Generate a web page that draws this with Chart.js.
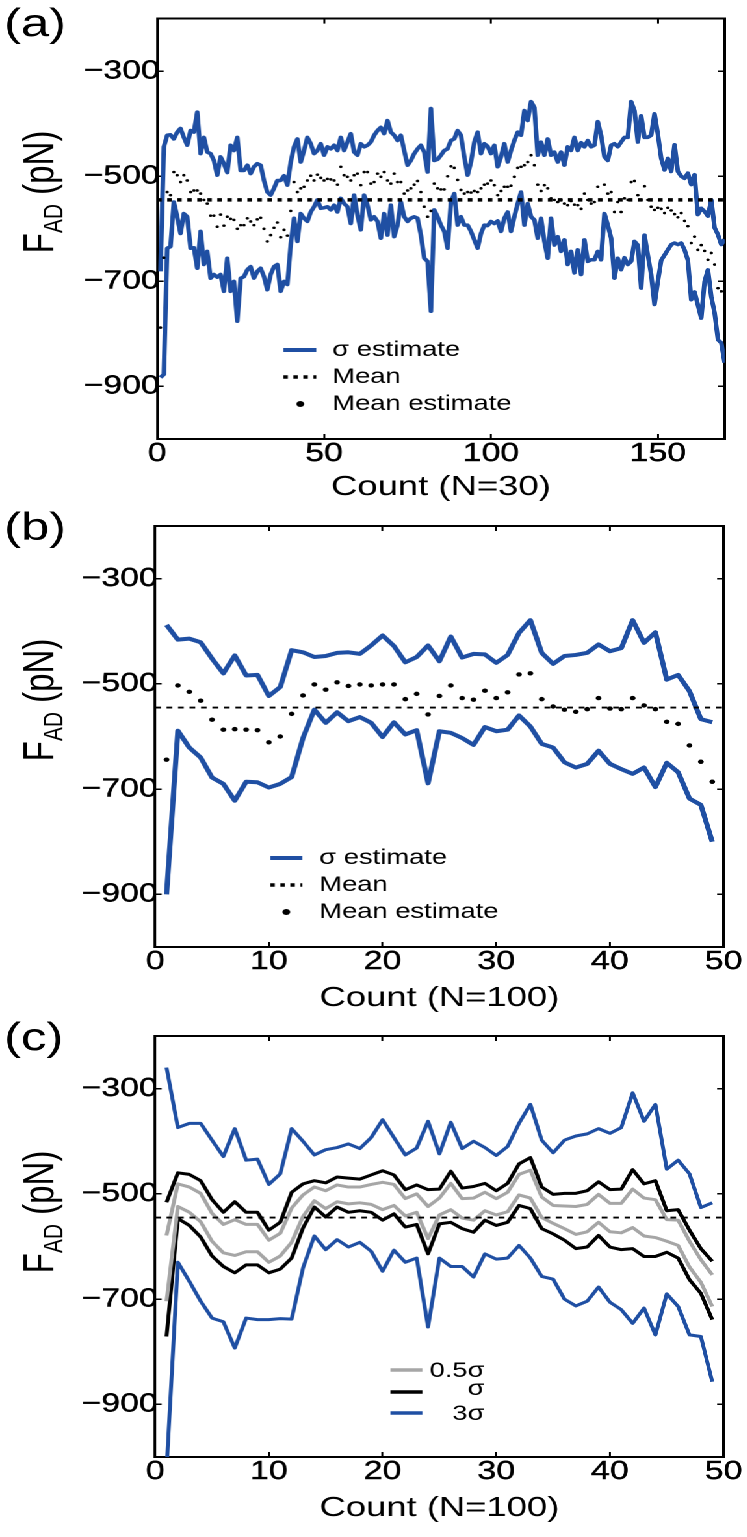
<!DOCTYPE html>
<html><head><meta charset="utf-8">
<script src="https://cdn.jsdelivr.net/npm/chart.js@4.4.1/dist/chart.umd.min.js"></script>
<style>
html,body{margin:0;padding:0;background:#fff;width:747px;height:1537px;overflow:hidden}
#wrap{position:absolute;left:0;top:0;width:574.615px;height:1537px;transform:scaleX(1.3);transform-origin:0 0}
.p{position:absolute;left:0;width:100%}
</style></head><body>
<div id="wrap">
 <div class="p" style="top:0;height:505px"><canvas id="ca"></canvas></div>
 <div class="p" style="top:505px;height:510px"><canvas id="cb"></canvas></div>
 <div class="p" style="top:1015px;height:522px"><canvas id="cc"></canvas></div>
</div>
<script>
// ---------- data ----------
const Y_TICKS = [-900, -700, -500, -300];
const A_X_TICKS = [0, 50, 100, 150];
const BC_X_TICKS = [0, 10, 20, 30, 40, 50];
const MEAN = -545;

const A_COUNT = Array.from({length: 170}, (_, i) => i + 1);
const A_SIGMA_UP = [
-681,-444,-422,-421,-429,-416,-409,-426,-441,-413,
-416,-378,-457,-426,-454,-457,-470,-498,-463,-476,
-493,-441,-451,-426,-489,-489,-479,-495,-482,-476,
-479,-508,-530,-536,-523,-508,-508,-499,-517,-473,
-444,-429,-473,-451,-426,-438,-457,-451,-438,-460,
-444,-448,-441,-451,-426,-451,-435,-419,-454,-460,
-438,-444,-441,-435,-422,-413,-407,-419,-394,-416,
-422,-432,-422,-451,-479,-470,-457,-448,-441,-454,
-492,-371,-470,-468,-460,-451,-448,-432,-429,-413,
-422,-463,-498,-473,-435,-416,-457,-438,-443,-457,
-441,-482,-463,-438,-473,-451,-432,-416,-422,-375,
-394,-358,-369,-460,-435,-460,-429,-460,-454,-473,
-454,-479,-444,-451,-426,-451,-436,-444,-432,-444,
-441,-396,-422,-463,-470,-441,-438,-444,-435,-426,
-426,-358,-375,-435,-385,-426,-426,-422,-381,-420,
-466,-488,-466,-491,-440,-491,-500,-504,-494,-516,
-497,-573,-561,-567,-576,-545,-598,-611,-630,-620];
const A_SIGMA_LO = [
-883,-877,-637,-634,-549,-577,-609,-571,-577,-637,
-636,-675,-605,-668,-643,-694,-687,-692,-687,-719,
-656,-719,-700,-776,-694,-691,-678,-672,-694,-681,
-675,-691,-716,-687,-672,-668,-719,-700,-706,-630,
-580,-624,-571,-580,-586,-568,-558,-545,-561,-560,
-558,-564,-555,-568,-542,-552,-558,-590,-536,-574,
-602,-536,-555,-583,-577,-586,-618,-571,-612,-555,
-615,-593,-549,-577,-586,-580,-577,-580,-612,-656,
-662,-757,-564,-577,-593,-605,-637,-549,-533,-593,
-577,-593,-593,-605,-621,-637,-609,-593,-594,-586,
-590,-585,-605,-580,-568,-605,-577,-552,-530,-593,
-552,-577,-583,-618,-580,-624,-656,-580,-631,-615,
-643,-621,-668,-643,-684,-640,-687,-621,-662,-659,
-659,-643,-659,-571,-593,-618,-694,-656,-678,-655,
-668,-662,-624,-631,-713,-612,-650,-687,-744,-700,
-660,-650,-640,-630,-627,-630,-627,-640,-660,-735,
-720,-745,-770,-700,-678,-729,-760,-811,-817,-855];
const A_MEAN_EST = [
-788,-655,-530,-536,-492,-498,-511,-498,-508,-530,
-527,-527,-533,-545,-552,-575,-575,-596,-573,-594,
-577,-581,-583,-600,-593,-593,-580,-586,-593,-582,
-579,-600,-624,-612,-598,-588,-616,-602,-613,-566,
-511,-530,-523,-520,-508,-499,-508,-497,-503,-508,
-505,-506,-508,-516,-482,-498,-501,-508,-498,-495,
-517,-492,-492,-514,-511,-495,-501,-492,-508,-514,
-495,-511,-511,-533,-527,-523,-516,-509,-530,-558,
-577,-566,-514,-523,-525,-525,-500,-481,-484,-507,
-526,-533,-530,-531,-528,-530,-523,-516,-514,-508,
-517,-536,-528,-520,-520,-518,-501,-484,-482,-479,
-473,-460,-479,-516,-528,-517,-523,-542,-545,-549,
-545,-552,-555,-547,-554,-555,-562,-533,-545,-552,
-549,-520,-545,-516,-533,-530,-568,-549,-568,-542,
-545,-511,-509,-536,-545,-519,-545,-558,-564,-560,
-562,-570,-560,-565,-572,-578,-570,-585,-595,-627,
-615,-640,-631,-642,-659,-646,-668,-713,-719,-738];

const BC_COUNT = Array.from({length: 49}, (_, i) => i + 1);
const B_SIGMA_UP = [
-388,-416,-414,-421,-452,-480,-446,-484,-483,-523,
-506,-436,-440,-449,-447,-441,-440,-443,-427,-408,
-428,-459,-449,-427,-457,-410,-450,-443,-444,-460,
-445,-403,-379,-441,-462,-447,-445,-441,-425,-438,
-432,-379,-422,-402,-492,-483,-514,-567,-573];
const B_SIGMA_LO = [
-900,-589,-621,-640,-678,-690,-722,-686,-687,-697,
-690,-677,-603,-549,-574,-554,-571,-563,-574,-601,
-573,-596,-588,-689,-590,-593,-603,-616,-582,-590,
-587,-560,-581,-614,-621,-649,-659,-652,-627,-652,
-662,-671,-659,-696,-650,-668,-718,-730,-800];
const B_MEAN_EST = [
-644,-503,-515,-532,-568,-587,-586,-587,-588,-611,
-600,-557,-522,-501,-511,-497,-504,-501,-503,-501,
-501,-529,-519,-558,-523,-503,-527,-530,-513,-527,
-516,-482,-480,-529,-543,-549,-553,-548,-527,-547,
-548,-527,-541,-548,-572,-576,-617,-648,-686];

const C_HALF_UP = [
-579,-481,-487,-499,-537,-558,-549,-558,-558,-588,
-575,-527,-502,-487,-494,-483,-487,-487,-482,-478,
-482,-509,-500,-524,-508,-480,-509,-508,-497,-509,
-497,-463,-455,-506,-522,-523,-524,-520,-501,-518,
-518,-491,-508,-511,-549,-550,-590,-625,-654];
const C_HALF_LO = [
-704,-524,-535,-553,-590,-612,-617,-610,-610,-630,
-618,-592,-543,-513,-528,-515,-519,-517,-520,-530,
-522,-542,-535,-585,-540,-530,-546,-550,-532,-540,
-534,-502,-508,-545,-556,-566,-577,-572,-554,-572,
-574,-564,-580,-583,-590,-598,-639,-668,-714];
const C_ONE_UP = [
-516,-460,-463,-475,-511,-535,-515,-535,-535,-569,
-554,-497,-481,-475,-479,-468,-470,-472,-464,-456,
-464,-492,-483,-492,-491,-457,-489,-486,-480,-494,
-480,-443,-431,-487,-501,-499,-499,-494,-477,-492,
-491,-454,-481,-475,-532,-530,-569,-604,-628];
const C_ONE_LO = [
-771,-547,-560,-582,-618,-638,-650,-635,-635,-650,
-643,-622,-565,-525,-544,-525,-535,-532,-535,-550,
-538,-563,-558,-614,-557,-554,-566,-573,-550,-560,
-554,-522,-528,-566,-576,-588,-604,-601,-579,-601,
-606,-604,-619,-619,-611,-622,-663,-689,-739];
const C_THREE_UP = [
-260,-374,-366,-366,-398,-429,-376,-436,-434,-482,
-462,-376,-400,-426,-416,-412,-405,-414,-393,-359,
-393,-426,-413,-362,-424,-364,-414,-400,-412,-427,
-410,-366,-330,-398,-422,-398,-390,-386,-376,-385,
-374,-308,-362,-330,-453,-436,-462,-526,-517];
const C_THREE_LO = [
-1024,-630,-666,-704,-736,-743,-793,-736,-739,-739,
-737,-738,-641,-580,-606,-587,-601,-592,-609,-647,
-607,-630,-622,-753,-622,-638,-638,-658,-614,-624,
-622,-598,-622,-657,-662,-700,-713,-704,-677,-706,
-720,-746,-717,-768,-690,-714,-768,-771,-857];

// ---------- style ----------
const SX = 1.3;
const PAGE_W = 747 / SX;
const FONT = "'Liberation Sans', Arial, Helvetica, sans-serif";
const BLUE = '#1f4fa3', GRAY = '#a6a6a6', BLACK = '#000000';

const pts = (xs, ys) => xs.map((x, i) => ({x, y: ys[i]}));
const flat = (xmax, v) => [{x: 0, y: v}, {x: xmax, y: v}];

function lineDS(label, xs, ys, color, w, extra) {
  return Object.assign({label, data: pts(xs, ys), showLine: true, borderColor: color, backgroundColor: color,
    borderWidth: w, pointRadius: 0, tension: 0, borderJoinStyle: 'round'}, extra || {});
}
function dotDS(label, xs, ys, r) {
  return {label, data: pts(xs, ys), showLine: false, pointRadius: r, pointBackgroundColor: '#000',
    pointBorderWidth: 0, borderWidth: 0, backgroundColor: '#000'};
}
function meanDS(xmax, w, dash) {
  return {label: 'Mean', data: flat(xmax, MEAN), showLine: true, borderColor: '#000', borderWidth: w,
    borderDash: dash, pointRadius: 0, borderCapStyle: 'butt'};
}

function decor(P) {
  return {
    id: 'decor',
    afterDraw(chart) {
      const ctx = chart.ctx;
      const X = v => v / SX, Y = v => v - P.top;
      ctx.save();
      ctx.fillStyle = '#000';
      ctx.font = `39px ${FONT}`; ctx.textAlign = 'left'; ctx.textBaseline = 'alphabetic';
      ctx.fillText(P.label, X(P.labelPos[0]), Y(P.labelPos[1]));
      // y title with subscript
      ctx.save();
      ctx.translate(X(P.yTitlePos[0]), Y(P.yTitlePos[1]));
      ctx.rotate(-Math.PI / 2);
      const big = `33px ${FONT}`, small = `21px ${FONT}`;
      ctx.font = big; const wF = ctx.measureText('F').width, wP = ctx.measureText(' (pN)').width;
      ctx.font = small; const wAD = ctx.measureText('AD').width;
      let x0 = -(wF + wAD + wP) / 2; const base = 12;
      ctx.font = big; ctx.fillText('F', x0, base); x0 += wF;
      ctx.font = small; ctx.fillText('AD', x0, base + 7); x0 += wAD;
      ctx.font = big; ctx.fillText(' (pN)', x0, base);
      ctx.restore();
      // legend
      for (const it of P.legend) {
        const sy = Y(it.sy);
        ctx.save();
        if (it.kind === 'line' || it.kind === 'dash') {
          ctx.strokeStyle = it.color; ctx.lineWidth = it.width; ctx.lineCap = 'butt';
          if (it.kind === 'dash') ctx.setLineDash([3.5, 4.2]);
          ctx.beginPath(); ctx.moveTo(X(it.sx[0]), sy); ctx.lineTo(X(it.sx[1]), sy); ctx.stroke();
        } else {
          ctx.fillStyle = '#000'; ctx.beginPath();
          ctx.arc(X(it.sx[0]), sy, 3, 0, Math.PI * 2); ctx.fill();
        }
        ctx.restore();
        ctx.font = `21px ${FONT}`; ctx.fillStyle = '#000';
        ctx.textAlign = it.align; ctx.textBaseline = it.baseline;
        ctx.fillText(it.text, X(it.tx), Y(it.ty));
      }
      ctx.restore();
    }
  };
}

function makeChart(id, P, datasets) {
  const l = P.area.l / SX, r = P.area.r / SX;
  const grid = {display: true, drawOnChartArea: false, drawTicks: true, tickLength: -5, color: '#000', lineWidth: 1.5};
  const border = {display: true, color: '#000', width: 2};
  const tickFont = {family: FONT, size: 26};
  const minus = v => String(v).replace('-', '\u2212');
  return new Chart(document.getElementById(id), {
    type: 'scatter',
    data: {datasets},
    options: {
      responsive: true, maintainAspectRatio: false, animation: false, devicePixelRatio: 2, events: [],
      layout: {padding: {left: 0, right: PAGE_W - r, top: P.area.t - P.top, bottom: 0}},
      plugins: {legend: {display: false}, tooltip: {enabled: false}},
      scales: {
        x: {type: 'linear', position: 'bottom', min: 0, max: P.xmax,
          afterBuildTicks: s => { s.ticks = P.xticks.map(v => ({value: v})); },
          afterFit: s => { s.height = P.top + P.h - P.area.b; },
          grid, border,
          ticks: {color: '#000', font: tickFont, padding: 4, maxRotation: 0, autoSkip: false, callback: minus,
                  textStrokeColor: '#000', textStrokeWidth: 0.4},
          title: {display: true, text: P.xtitle, color: '#000', font: {family: FONT, size: 28}, padding: {top: 0, bottom: P.xTitlePad}}},
        x2: {type: 'linear', position: 'top', min: 0, max: P.xmax,
          afterBuildTicks: s => { s.ticks = P.xticks.map(v => ({value: v})); },
          afterFit: s => { s.height = 0; },
          grid, border, ticks: {display: false}},
        y: {type: 'linear', position: 'left', min: -1000, max: -200,
          afterBuildTicks: s => { s.ticks = Y_TICKS.map(v => ({value: v})); },
          afterFit: s => { s.width = l; },
          grid, border,
          ticks: {color: '#000', font: tickFont, padding: 3, autoSkip: false, callback: minus,
                  textStrokeColor: '#000', textStrokeWidth: 0.4}},
        y2: {type: 'linear', position: 'right', min: -1000, max: -200,
          afterBuildTicks: s => { s.ticks = Y_TICKS.map(v => ({value: v})); },
          afterFit: s => { s.width = 0; },
          grid, border, ticks: {display: false}}
      }
    },
    plugins: [decor(P)]
  });
}

const PA = {top: 0, h: 505, area: {l: 157, r: 724, t: 18, b: 439}, xmax: 170, xticks: A_X_TICKS,
  xtitle: 'Count (N=30)', xTitlePad: 1, label: '(a)', labelPos: [4, 36], yTitlePos: [38, 192],
  legend: [
    {kind: 'line', color: BLUE, width: 4, sx: [283, 316], sy: 350, text: 'σ estimate', tx: 332, ty: 350, align: 'left', baseline: 'middle'},
    {kind: 'dash', color: '#000', width: 3.5, sx: [283, 316], sy: 377, text: 'Mean', tx: 332, ty: 377, align: 'left', baseline: 'middle'},
    {kind: 'dot', sx: [300], sy: 404, text: 'Mean estimate', tx: 332, ty: 404, align: 'left', baseline: 'middle'}]};
const PB = {top: 505, h: 510, area: {l: 155, r: 723, t: 526, b: 947}, xmax: 50, xticks: BC_X_TICKS,
  xtitle: 'Count (N=100)', xTitlePad: 0, label: '(b)', labelPos: [4, 540], yTitlePos: [38, 700],
  legend: [
    {kind: 'line', color: BLUE, width: 4, sx: [270, 302], sy: 858, text: 'σ estimate', tx: 319, ty: 858, align: 'left', baseline: 'middle'},
    {kind: 'dash', color: '#000', width: 3.5, sx: [270, 302], sy: 885, text: 'Mean', tx: 319, ty: 885, align: 'left', baseline: 'middle'},
    {kind: 'dot', sx: [286], sy: 912, text: 'Mean estimate', tx: 319, ty: 912, align: 'left', baseline: 'middle'}]};
const PC = {top: 1015, h: 522, area: {l: 155, r: 723, t: 1036, b: 1457}, xmax: 50, xticks: BC_X_TICKS,
  xtitle: 'Count (N=100)', xTitlePad: 12, label: '(c)', labelPos: [4, 1050], yTitlePos: [38, 1212],
  legend: [
    {kind: 'line', color: GRAY, width: 3.5, sx: [390, 422], sy: 1370, text: '0.5σ', tx: 484, ty: 1377, align: 'right', baseline: 'alphabetic'},
    {kind: 'line', color: BLACK, width: 3.5, sx: [390, 422], sy: 1392, text: 'σ', tx: 484, ty: 1395, align: 'right', baseline: 'alphabetic'},
    {kind: 'line', color: BLUE, width: 3.5, sx: [390, 422], sy: 1413, text: '3σ', tx: 484, ty: 1420, align: 'right', baseline: 'alphabetic'}]};

makeChart('ca', PA, [
  meanDS(170, 3.5, [3.5, 4.2]),
  dotDS('Mean estimate', A_COUNT, A_MEAN_EST, 1.3),
  lineDS('σ estimate', A_COUNT, A_SIGMA_UP, BLUE, 3.5),
  lineDS('σ estimate (lower)', A_COUNT, A_SIGMA_LO, BLUE, 3.5)
]);
makeChart('cb', PB, [
  meanDS(50, 1.8, [4.4, 4.4]),
  dotDS('Mean estimate', BC_COUNT, B_MEAN_EST, 2.2),
  lineDS('σ estimate', BC_COUNT, B_SIGMA_UP, BLUE, 4),
  lineDS('σ estimate (lower)', BC_COUNT, B_SIGMA_LO, BLUE, 4)
]);
makeChart('cc', PC, [
  meanDS(50, 1.8, [4.4, 4.4]),
  lineDS('0.5σ', BC_COUNT, C_HALF_UP, GRAY, 3),
  lineDS('0.5σ (lower)', BC_COUNT, C_HALF_LO, GRAY, 3),
  lineDS('σ', BC_COUNT, C_ONE_UP, BLACK, 3),
  lineDS('σ (lower)', BC_COUNT, C_ONE_LO, BLACK, 3),
  lineDS('3σ', BC_COUNT, C_THREE_UP, BLUE, 3),
  lineDS('3σ (lower)', BC_COUNT, C_THREE_LO, BLUE, 3)
]);
</script>
</body></html>
